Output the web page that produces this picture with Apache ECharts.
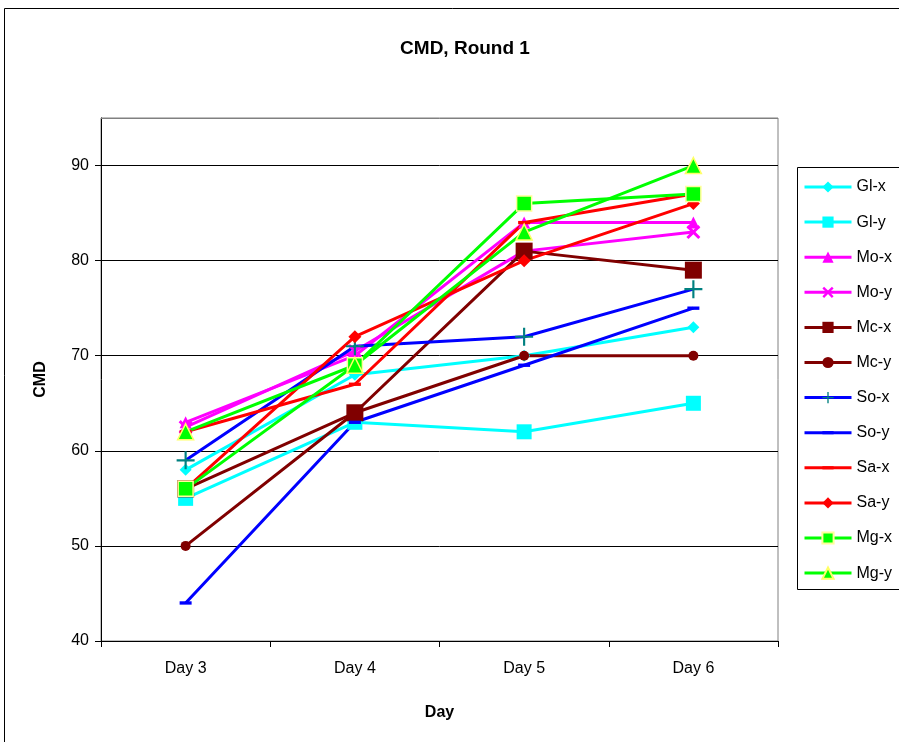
<!DOCTYPE html>
<html>
<head>
<meta charset="utf-8">
<script src="https://cdn.jsdelivr.net/npm/echarts@6/dist/echarts.min.js"></script>
<style>html,body{margin:0;padding:0;background:#fff}#c{width:899px;height:742px}</style>
</head>
<body>
<div id="c"></div>
<script>
const days = ['Day 3', 'Day 4', 'Day 5', 'Day 6'];
const seriesNames = ['Gl-x','Gl-y','Mo-x','Mo-y','Mc-x','Mc-y','So-x','So-y','Sa-x','Sa-y','Mg-x','Mg-y'];
const glX = [58, 68, 70, 73];
const glY = [55, 63, 62, 65];
const moX = [63, 70, 84, 84];
const moY = [62.5, 70.5, 81, 83];
const mcX = [56, 64, 81, 79];
const mcY = [50, 64, 70, 70];
const soX = [59, 71, 72, 77];
const soY = [44, 63, 69, 75];
const saX = [62, 67, 84, 87];
const saY = [56, 72, 80, 86];
const mgX = [56, 69, 86, 87];
const mgY = [62, 69, 83, 90];
const yTicks = [40, 50, 60, 70, 80, 90];

const FONT = '"Liberation Sans", Arial, sans-serif';
const X_PATH = 'path://M0,1.5 L1.5,0 L5,3.5 L8.5,0 L10,1.5 L6.5,5 L10,8.5 L8.5,10 L5,6.5 L1.5,10 L0,8.5 L3.5,5 Z';
const PLUS_PATH = 'path://M4.4,0 H5.6 V4.4 H10 V5.6 H5.6 V10 H4.4 V5.6 H0 V4.4 H4.4 Z';
const DASH_PATH = 'path://M0,0 M10,10 M0,3.6 H10 V6.4 H0 Z';

function mk(name, data, lineColor, symbol, size, symColor, border) {
  return {
    name: name, type: 'line', data: data,
    symbol: symbol, symbolSize: size, showAllSymbol: true, symbolKeepAspect: true,
    lineStyle: { color: lineColor, width: 3 },
    itemStyle: Object.assign({ color: symColor || lineColor }, border || {}),
    emphasis: { disabled: true },
    animation: false
  };
}

const series = [
  mk('Gl-x', glX, '#00FFFF', 'diamond', 12),
  mk('Gl-y', glY, '#00FFFF', 'rect', 15),
  mk('Mo-x', moX, '#FF00FF', 'triangle', 12),
  mk('Mo-y', moY, '#FF00FF', X_PATH, 14),
  mk('Mc-x', mcX, '#800000', 'rect', 17),
  mk('Mc-y', mcY, '#800000', 'circle', 10),
  mk('So-x', soX, '#0000FF', PLUS_PATH, 18, '#008080'),
  mk('So-y', soY, '#0000FF', DASH_PATH, 12),
  mk('Sa-x', saX, '#FF0000', DASH_PATH, 12),
  mk('Sa-y', saY, '#FF0000', 'diamond', 13),
  mk('Mg-x', mgX, '#00FF00', 'rect', 15, '#00FF00', { borderColor: '#ffff99', borderWidth: 1.5 }),
  mk('Mg-y', mgY, '#00FF00', 'triangle', 16, '#00FF00', { borderColor: '#ffff66', borderWidth: 1.5 })
];

const chart = echarts.init(document.getElementById('c'), null, { renderer: 'canvas' });
chart.setOption({
  animation: false,
  backgroundColor: '#fff',
  textStyle: { fontFamily: FONT },
  title: {
    text: 'CMD, Round 1', left: 460, top: 34, textAlign: 'center',
    textStyle: { fontFamily: FONT, fontSize: 19, fontWeight: 'bold', color: '#000' }
  },
  grid: {
    left: 101, right: 121, top: 118, bottom: 101,
    show: true, borderColor: '#808080', borderWidth: 1, backgroundColor: 'transparent'
  },
  xAxis: {
    type: 'category', data: days, boundaryGap: true,
    name: 'Day', nameLocation: 'middle', nameGap: 64,
    nameTextStyle: { fontFamily: FONT, fontSize: 16, fontWeight: 'bold', color: '#000' },
    axisLine: { lineStyle: { color: '#000', width: 1 } },
    axisTick: { show: true, inside: false, length: 6, alignWithLabel: false, lineStyle: { color: '#000' } },
    axisLabel: { fontFamily: FONT, fontSize: 16, color: '#000', margin: 20 },
    splitLine: { show: false }
  },
  yAxis: {
    type: 'value', min: 40, max: 95, interval: 10,
    name: 'CMD', nameLocation: 'middle', nameGap: 52, nameRotate: 90,
    nameTextStyle: { fontFamily: FONT, fontSize: 16, fontWeight: 'bold', color: '#000' },
    axisLine: { show: true, lineStyle: { color: '#000', width: 1 } },
    axisTick: { show: true, inside: false, length: 6, customValues: yTicks, lineStyle: { color: '#000' } },
    axisLabel: {
      fontFamily: FONT, fontSize: 16, color: '#000', margin: 12, customValues: yTicks,
      formatter: function (v) { return yTicks.indexOf(v) >= 0 ? String(v) : ''; }
    },
    splitLine: { show: true, lineStyle: { color: '#000', width: 1 } }
  },
  legend: {
    orient: 'vertical', left: 803, top: 179, padding: 0,
    itemWidth: 47, itemHeight: 14, itemGap: 19.1,
    data: seriesNames,
    lineStyle: { width: 3 },
    textStyle: { fontFamily: FONT, fontSize: 16, color: '#000' },
    selectedMode: false
  },
  graphic: [
    { type: 'rect', z: -10, silent: true,
      shape: { x: 4.5, y: 8.5, width: 900, height: 740 },
      style: { fill: 'none', stroke: '#000', lineWidth: 1 } },
    { type: 'rect', z: 100, silent: true,
      shape: { x: 797.5, y: 167.5, width: 110, height: 422 },
      style: { fill: 'none', stroke: '#000', lineWidth: 1 } },
    { type: 'line', z: 100, silent: true,
      shape: { x1: 101, y1: 118.5, x2: 778, y2: 118.5 },
      style: { stroke: '#808080', lineWidth: 1 } }
  ],
  series: series
});
</script>
</body>
</html>
